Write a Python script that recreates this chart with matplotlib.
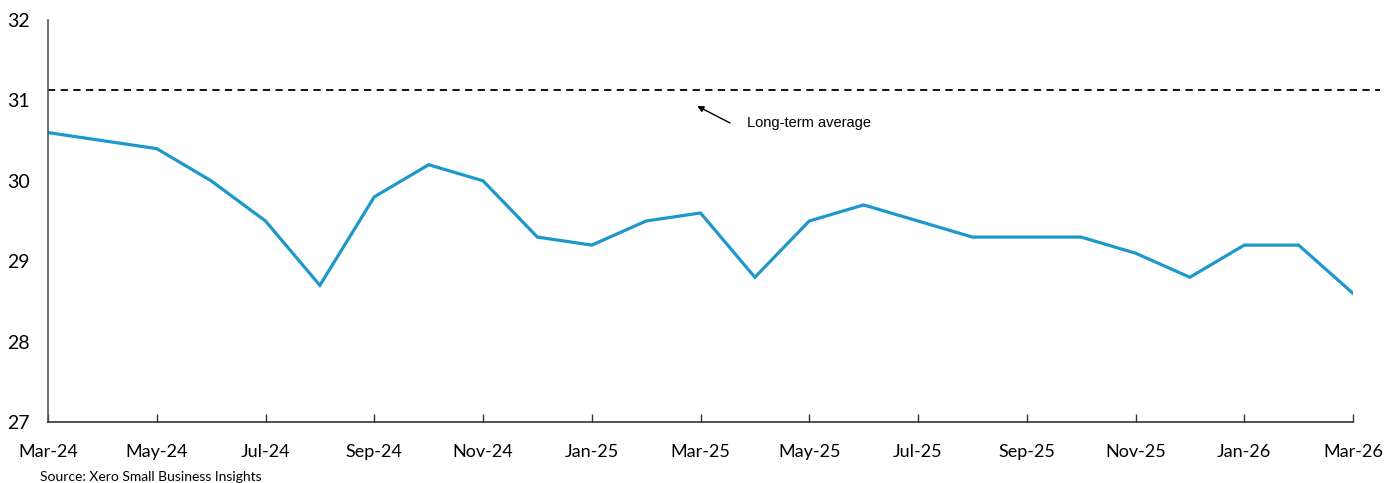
import numpy as np
import matplotlib.pyplot as plt

months = ["Mar-24", "Apr-24", "May-24", "Jun-24", "Jul-24", "Aug-24", "Sep-24",
          "Oct-24", "Nov-24", "Dec-24", "Jan-25", "Feb-25", "Mar-25", "Apr-25",
          "May-25", "Jun-25", "Jul-25", "Aug-25", "Sep-25", "Oct-25", "Nov-25",
          "Dec-25", "Jan-26", "Feb-26", "Mar-26"]
values = [30.6, 30.5, 30.4, 30.0, 29.5, 28.7, 29.8, 30.2, 30.0, 29.3, 29.2,
          29.5, 29.6, 28.8, 29.5, 29.7, 29.5, 29.3, 29.3, 29.3, 29.1, 28.8,
          29.2, 29.2, 28.6]
long_term_avg = 31.13

fig = plt.figure(figsize=(13.85, 4.83), dpi=100)
ax = fig.add_axes([48/1385, 1-422/483, (1353-48)/1385, (422-20)/483])

x = np.arange(len(months))
ax.plot(x, values, color="#1d97cc", lw=2.3, solid_joinstyle="miter")
# dashed average runs a bit past the last month
ax.plot([0, 24.5], [long_term_avg, long_term_avg], color="black", lw=1.3,
        ls=(0, (4, 3)), clip_on=False)

ax.annotate("", xy=(11.94, 30.93), xytext=(12.54, 30.72),
            arrowprops=dict(arrowstyle="-|>", color="black", lw=1,
                            shrinkA=0, shrinkB=0, mutation_scale=9))
ax.text(12.86, 30.72, "Long-term average", fontsize=10.5,
        family="Liberation Sans", va="center", ha="left")

ax.set_xlim(0, 24)
ax.set_ylim(27, 32)
ax.set_xticks(x[::2])
ax.set_xticklabels(months[::2], family="Lato", fontsize=13)
ax.set_yticks([27, 28, 29, 30, 31, 32])
ax.set_yticklabels(["27", "28", "29", "30", "31", "32"], family="Lato", fontsize=14)
ax.tick_params(axis="x", direction="in", length=6, width=1, color="#333333", pad=16)
ax.tick_params(axis="y", length=0, pad=13)
for s in ["top", "right"]:
    ax.spines[s].set_visible(False)
ax.spines["left"].set_color("#555555")
ax.spines["bottom"].set_color("#333333")
ax.spines["left"].set_linewidth(1.2)
ax.spines["bottom"].set_linewidth(1.2)

fig.text(40/1385, 1-477/483, "Source: Xero Small Business Insights",
         family="Lato", fontsize=10, ha="left", va="center")

fig.savefig("out.png", dpi=100)
